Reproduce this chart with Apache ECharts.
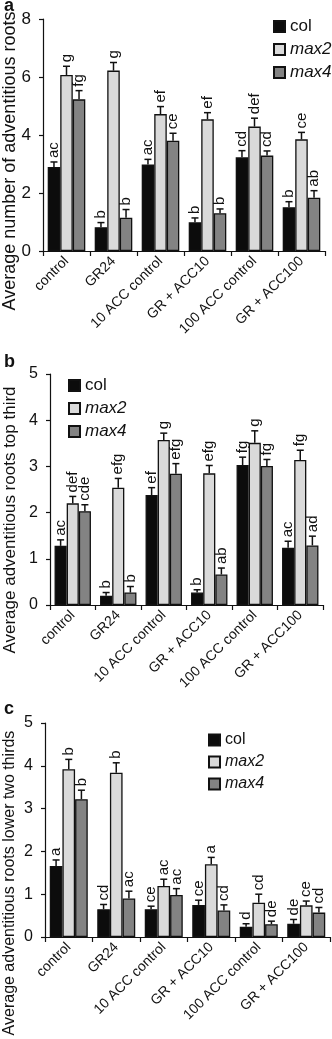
<!DOCTYPE html>
<html>
<head>
<meta charset="UTF-8">
<title>Adventitious roots</title>
<script src="https://cdn.jsdelivr.net/npm/echarts@6/dist/echarts.min.js"></script>
<style>
  html, body { margin: 0; padding: 0; background: #fff; }
  #chart { width: 332px; height: 1039px; }
</style>
</head>
<body>
<div id="chart"></div>
<script>
const FONT = "'Liberation Sans', Arial, sans-serif";

const categories = ["control", "GR24", "10 ACC control", "GR + ACC10", "100 ACC control", "GR + ACC100"];
const genotypes = ["col", "max2", "max4"];

// panel a: average number of adventitious roots
const aCol = [2.90, 0.82, 2.98, 0.99, 3.23, 1.51];
const aColErr = [0.17, 0.16, 0.18, 0.15, 0.23, 0.19];
const aMax2 = [6.07, 6.22, 4.72, 4.54, 4.29, 3.85];
const aMax2Err = [0.30, 0.28, 0.26, 0.23, 0.29, 0.24];
const aMax4 = [5.23, 1.15, 3.80, 1.30, 3.29, 1.84];
const aMax4Err = [0.30, 0.28, 0.26, 0.15, 0.16, 0.24];
const aColSig = ["ac", "b", "ac", "b", "cd", "b"];
const aMax2Sig = ["g", "g", "ef", "ef", "def", "ce"];
const aMax4Sig = ["fg", "b", "ce", "b", "cd", "ab"];

// panel b: top third
const bCol = [1.28, 0.20, 2.38, 0.27, 3.03, 1.24];
const bColErr = [0.13, 0.07, 0.16, 0.06, 0.17, 0.14];
const bMax2 = [2.20, 2.54, 3.57, 2.85, 3.51, 3.14];
const bMax2Err = [0.15, 0.20, 0.15, 0.17, 0.26, 0.21];
const bMax4 = [2.03, 0.27, 2.84, 0.66, 3.01, 1.29];
const bMax4Err = [0.14, 0.13, 0.22, 0.14, 0.14, 0.20];
const bColSig = ["ac", "b", "ef", "b", "fg", "ac"];
const bMax2Sig = ["def", "efg", "g", "efg", "g", "fg"];
const bMax4Sig = ["cde", "b", "efg", "ab", "fg", "ad"];

// panel c: lower two thirds
const cCol = [1.66, 0.65, 0.65, 0.75, 0.24, 0.31];
const cColErr = [0.14, 0.11, 0.07, 0.11, 0.07, 0.10];
const cMax2 = [3.92, 3.84, 1.19, 1.70, 0.80, 0.74];
const cMax2Err = [0.23, 0.23, 0.16, 0.16, 0.20, 0.10];
const cMax4 = [3.22, 0.90, 0.98, 0.62, 0.30, 0.57];
const cMax4Err = [0.21, 0.17, 0.15, 0.13, 0.07, 0.12];
const cColSig = ["a", "cd", "ce", "ce", "d", "de"];
const cMax2Sig = ["b", "b", "ac", "a", "cd", "ce"];
const cMax4Sig = ["b", "ac", "ac", "cd", "de", "cd"];

const colors = ["#0c0c0c", "#dadada", "#838383"];

const panels = [
  { vals: [aCol, aMax2, aMax4], errs: [aColErr, aMax2Err, aMax4Err], sigs: [aColSig, aMax2Sig, aMax4Sig],
    grid: { left: 43, top: 19, width: 282, height: 232 }, max: 8, interval: 2, tickFont: 17, tickMargin: 12,
    title: "Average number of adventitious roots", titleY: 161, titleSize: 18,
    legend: { left: 268, top: 13 }, legendFont: 17, letter: "a", letterY: 15 },
  { vals: [bCol, bMax2, bMax4], errs: [bColErr, bMax2Err, bMax4Err], sigs: [bColSig, bMax2Sig, bMax4Sig],
    grid: { left: 50, top: 374, width: 273, height: 231 }, max: 5, interval: 1, tickFont: 16, tickMargin: 12,
    title: "Average adventitious roots top third", titleY: 520, titleSize: 17,
    legend: { left: 63, top: 372 }, legendFont: 17, letter: "b", letterY: 371 },
  { vals: [cCol, cMax2, cMax4], errs: [cColErr, cMax2Err, cMax4Err], sigs: [cColSig, cMax2Sig, cMax4Sig],
    grid: { left: 45, top: 723, width: 285, height: 214 }, max: 5, interval: 1, tickFont: 16, tickMargin: 12,
    title: "Average adventitious roots lower two thirds", titleY: 883, titleSize: 16,
    legend: { left: 203, top: 727 }, legendFont: 16, letter: "c", letterY: 718 }
];

const grids = [], xAxes = [], yAxes = [], series = [], legends = [], graphics = [];

panels.forEach((p, g) => {
  grids.push(p.grid);
  xAxes.push({
    type: "category", gridIndex: g, data: categories,
    axisLine: { lineStyle: { color: "#111", width: 1.2 } },
    axisTick: { show: true, length: 5, lineStyle: { color: "#111", width: 1.2 } },
    axisLabel: { rotate: 45, margin: 8, fontSize: 14, fontFamily: FONT, color: "#111", interval: 0 }
  });
  yAxes.push({
    type: "value", gridIndex: g, min: 0, max: p.max, interval: p.interval,
    axisLine: { show: true, lineStyle: { color: "#111", width: 1.2 } },
    axisTick: { show: true, length: 4, lineStyle: { color: "#111", width: 1.2 } },
    splitLine: { show: false },
    axisLabel: { fontSize: p.tickFont, fontFamily: FONT, color: "#111", margin: p.tickMargin }
  });

  genotypes.forEach((name, k) => {
    series.push({
      type: "bar", name: name, xAxisIndex: g, yAxisIndex: g,
      data: p.vals[k], barGap: "0%", barCategoryGap: "20%",
      itemStyle: { color: colors[k], borderColor: "#111", borderWidth: 1.3 },
      emphasis: { disabled: true }, z: 2
    });
    const sig = p.sigs[k];
    series.push({
      type: "custom", xAxisIndex: g, yAxisIndex: g, z: 5, silent: true,
      data: p.vals[k].map((v, i) => [i, v, p.errs[k][i]]),
      encode: { x: 0, y: [1, 2] },
      renderItem: (params, api) => {
        const i = api.value(0), v = api.value(1), e = api.value(2);
        const base = api.coord([i, v]);
        const top = api.coord([i, v + e]);
        const bw = api.size([1, 0])[0] * 0.8 / 3;
        const cx = base[0] + (k - 1) * bw;
        return {
          type: "group",
          children: [
            { type: "line", shape: { x1: cx, y1: base[1], x2: cx, y2: top[1] }, style: { stroke: "#111", lineWidth: 1.5 } },
            { type: "line", shape: { x1: cx - 3.5, y1: top[1], x2: cx + 3.5, y2: top[1] }, style: { stroke: "#111", lineWidth: 1.5 } },
            { type: "text", x: cx, y: top[1] - 4, rotation: Math.PI / 2,
              style: { text: sig[params.dataIndex], align: "left", verticalAlign: "middle",
                       font: "15px " + FONT, fill: "#111" } }
          ]
        };
      }
    });
  });

  legends.push({
    left: p.legend.left, top: p.legend.top, orient: "vertical", selectedMode: false,
    data: genotypes, icon: "rect", itemWidth: 11, itemHeight: 11, itemGap: 6,
    textStyle: { fontSize: p.legendFont, fontFamily: FONT, color: "#111",
                 rich: { i: { fontStyle: "italic", fontSize: p.legendFont, fontFamily: FONT, color: "#111" } } },
    formatter: n => n === "col" ? n : "{i|" + n + "}"
  });

  graphics.push({
    type: "text", x: 10, y: p.titleY, rotation: Math.PI / 2,
    style: { text: p.title, align: "center", verticalAlign: "middle", font: p.titleSize + "px " + FONT, fill: "#111" }
  });
  graphics.push({
    type: "text", x: 4, y: p.letterY,
    style: { text: p.letter, align: "left", verticalAlign: "bottom", font: "bold 18px " + FONT, fill: "#111" }
  });
});

const chart = echarts.init(document.getElementById("chart"));
chart.setOption({
  animation: false,
  backgroundColor: "#fff",
  grid: grids,
  xAxis: xAxes,
  yAxis: yAxes,
  legend: legends,
  series: series,
  graphic: graphics
});
</script>
</body>
</html>
